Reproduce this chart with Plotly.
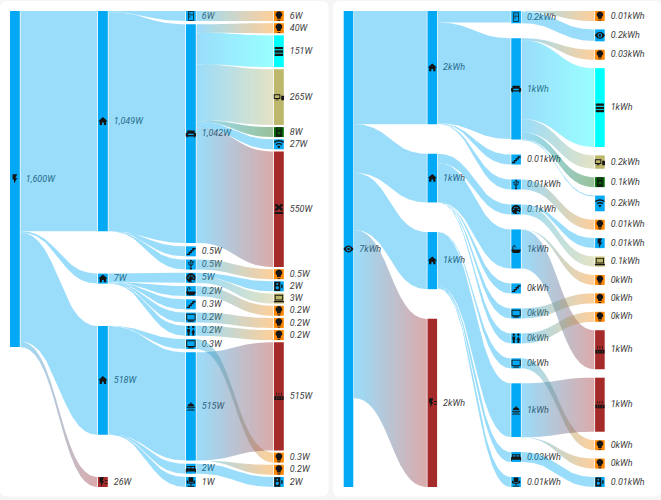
#!/usr/bin/env python3
# -*- coding: utf-8 -*-
"""Power and energy sankey cards, built on plain scatter fills so links can fade."""
import numpy as np
import plotly.graph_objects as go

# ----- power card (W)
power_column_sizes = [1, 4, 13, 17]
power_labels = [
    "1,600W",
    "1,049W", "7W", "518W", "26W",
    "6W", "1,042W", "0.5W", "0.5W", "5W", "0.2W", "0.3W", "0.2W", "0.2W", "0.3W", "515W", "2W", "1W",
    "6W", "40W", "151W", "265W", "8W", "27W", "550W", "0.5W", "2W", "3W", "0.2W", "0.2W", "0.2W",
    "515W", "0.3W", "0.2W", "2W",
]
power_values = [
    1600,
    1049, 7, 518, 26,
    6, 1042, 0.5, 0.5, 5, 0.2, 0.3, 0.2, 0.2, 0.3, 515, 2, 1,
    6, 40, 151, 265, 8, 27, 550, 0.5, 2, 3, 0.2, 0.2, 0.2, 515, 0.3, 0.2, 2,
]
power_link_from = [0, 0, 0, 0, 1, 1, 1, 1, 2, 2, 2, 2, 2, 3, 3, 3, 3,
                   5, 6, 6, 6, 6, 6, 6, 8, 9, 9, 10, 12, 13, 14, 15, 15, 16]
power_link_to = [1, 2, 3, 4, 5, 6, 7, 8, 9, 10, 11, 12, 13, 14, 15, 16, 17,
                 18, 19, 20, 21, 22, 23, 24, 25, 26, 27, 28, 29, 30, 32, 31, 33, 34]
power_link_value = [1049, 7, 518, 26, 6, 1042, 0.5, 0.5, 5, 0.2, 0.3, 0.2, 0.2, 0.3, 515, 2, 1,
                    6, 40, 151, 265, 8, 27, 550, 0.5, 2, 3, 0.2, 0.2, 0.2, 0.3, 515, 0.2, 2]

# ----- energy card (kWh), labels are rounded so the values carry more digits
energy_column_sizes = [1, 4, 13, 18]
energy_labels = [
    "7kWh",
    "2kWh", "1kWh", "1kWh", "2kWh",
    "0.2kWh", "1kWh", "0.01kWh", "0.01kWh", "0.1kWh", "1kWh", "0kWh", "0kWh", "0kWh", "0kWh",
    "1kWh", "0.03kWh", "0.01kWh",
    "0.01kWh", "0.2kWh", "0.03kWh", "1kWh", "0.2kWh", "0.1kWh", "0.2kWh", "0.01kWh", "0.01kWh",
    "0.1kWh", "0kWh", "0kWh", "0kWh", "1kWh", "1kWh", "0kWh", "0kWh", "0.01kWh",
]
energy_values = [
    7.0,
    1.664, 0.716, 0.84, 2.474,
    0.18, 1.49, 0.005, 0.005, 0.14, 0.574, 0.001, 0.001, 0.001, 0.001, 0.79, 0.03, 0.01,
    0.01, 0.175, 0.03, 1.159, 0.196, 0.1, 0.231, 0.01, 0.01, 0.1, 0.001, 0.001, 0.001,
    0.574, 0.795, 0.001, 0.001, 0.01,
]
energy_link_from = [0, 0, 0, 0, 1, 1, 1, 1, 2, 2, 2, 2, 2, 3, 3, 3, 3,
                    5, 5, 6, 6, 6, 6, 6, 8, 9, 9, 10, 10, 12, 13, 14, 15, 15, 16]
energy_link_to = [1, 2, 3, 4, 5, 6, 7, 8, 9, 10, 11, 12, 13, 14, 15, 16, 17,
                  18, 19, 20, 21, 22, 23, 24, 25, 26, 27, 28, 31, 29, 30, 33, 32, 34, 35]
energy_link_value = [1.664, 0.716, 0.84, 2.474, 0.17, 1.483, 0.005, 0.005, 0.14, 0.574,
                     0.001, 0.001, 0.001, 0.001, 0.79, 0.03, 0.01,
                     0.01, 0.17, 0.03, 1.159, 0.196, 0.1, 0.015, 0.005, 0.014, 0.1,
                     0.001, 0.574, 0.001, 0.001, 0.001, 0.795, 0.001, 0.03]

# ----- node styling
BLUE = "#03A9F4"
ORANGE = "#FF8600"
CYAN = "#00FFFF"
KHAKI = "#BDB76B"
GREEN = "#006400"
BROWN = "#A52A2A"
power_colors = [BLUE] * 4 + [BROWN] + [BLUE] * 13 + [
    ORANGE, ORANGE, CYAN, KHAKI, GREEN, BLUE, BROWN, ORANGE, BLUE, KHAKI, ORANGE, ORANGE, ORANGE,
    BROWN, ORANGE, ORANGE, BLUE]
energy_colors = [BLUE] * 4 + [BROWN] + [BLUE] * 13 + [
    ORANGE, BLUE, ORANGE, CYAN, KHAKI, GREEN, BLUE, ORANGE, BLUE, KHAKI, ORANGE, ORANGE, ORANGE,
    BROWN, BROWN, ORANGE, ORANGE, BLUE]
power_icons = [
    "flash",
    "home", "home", "home", "meter",
    "fridge", "sofa", "stairs", "usb", "palette", "bath", "stairs", "monitor", "toilet", "monitor",
    "shower", "bed", "chair",
    "bulb", "bulb", "server", "console", "tower", "wifi", "aircon", "bulb", "speaker", "laptop",
    "bulb", "bulb", "bulb", "radiator", "bulb", "bulb", "speaker",
]
energy_icons = [
    "eye",
    "home", "home", "home", "meter",
    "fridge", "sofa", "stairs", "usb", "palette", "bath", "stairs", "monitor", "toilet", "monitor",
    "shower", "bed", "chair",
    "bulb", "eye", "bulb", "server", "console", "tower", "wifi", "bulb", "flash", "laptop",
    "bulb", "bulb", "bulb", "radiator", "radiator", "bulb", "bulb", "speaker",
]

TOP, BOTTOM = 11.0, 487.0
MIN_NODE = 10.0
STRIP = 5  # gradient strip width, strips start on whole pixels so no seams show
FONT = "Roboto"
TEXT_COLOR = "#3d3d3d"
ICON_COLOR = "#151515"


def circle(cx, cy, r, n=14):
    a = np.linspace(0, 2 * np.pi, n, endpoint=False)
    return list(zip(cx + r * np.cos(a), cy + r * np.sin(a)))


def rect(x0, y0, x1, y1):
    return [(x0, y0), (x1, y0), (x1, y1), (x0, y1)]


# simple 24x24 outlines, holes work because shapes fill even-odd
ICONS = {
    "flash": [[(7, 2), (7, 13), (10, 13), (10, 22), (17, 10), (13, 10), (17, 2)]],
    "home": [[(10, 20), (10, 15), (14, 15), (14, 20), (19, 20), (19, 12), (22, 12), (12, 3), (2, 12), (5, 12), (5, 20)]],
    "meter": [[(5, 2), (5, 13), (8, 13), (8, 22), (14, 10), (11, 10), (14, 2)], rect(16, 8, 22, 10), rect(16, 14, 22, 16)],
    "bulb": [[(12, 2), (16, 3), (19, 7), (19, 11), (16, 14.7), (16, 18), (8, 18), (8, 14.7), (5, 11), (5, 7), (8, 3)],
             rect(9, 20, 15, 22)],
    "eye": [[(1, 12), (4, 8), (8, 5.4), (12, 4.5), (16, 5.4), (20, 8), (23, 12), (20, 16), (16, 18.6), (12, 19.5), (8, 18.6), (4, 16)],
            circle(12, 12, 5), circle(12, 12, 3)],
    "wifi": [[(12, 21), (15.6, 16.2), (14, 15.3), (12, 15), (10, 15.3), (8.4, 16.2)],
             [(4.8, 11.4), (8, 9.6), (12, 9), (16, 9.6), (19.2, 11.4), (17.4, 13.8), (15, 12.6), (12, 12), (9, 12.6), (6.6, 13.8)],
             [(1.2, 6.6), (6, 3.9), (12, 3), (18, 3.9), (22.8, 6.6), (21, 9), (16.5, 6.7), (12, 6), (7.5, 6.7), (3, 9)]],
    "server": [rect(3, 3, 21, 8), rect(3, 10, 21, 15), rect(3, 17, 21, 22)],
    "console": [rect(1, 6, 15, 16), rect(3, 8, 13, 14), rect(5, 17, 11, 19), rect(17, 9, 23, 19)],
    "tower": [rect(6, 2, 18, 22), rect(8, 4, 16, 7), circle(12, 14, 3.5)],
    "sofa": [[(4, 5), (20, 5), (20, 10), (22, 10), (23, 12), (23, 18), (21, 18), (21, 20), (19, 20), (19, 18), (5, 18), (5, 20), (3, 20), (3, 18), (1, 18), (1, 12), (2, 10), (4, 10)],
             rect(6, 12, 18, 15)],
    "stairs": [[(15, 5), (15, 9), (11, 9), (11, 13), (7, 13), (7, 17), (3, 17), (3, 20), (10, 20), (10, 16), (14, 16), (14, 12), (18, 12), (18, 8), (22, 8), (22, 5)]],
    "usb": [[(12, 1), (15, 5), (13, 5), (13, 19), (11, 19), (11, 5), (9, 5)], circle(12, 20, 2.5),
            [(11, 15), (7, 12.5), (7, 9), (8.5, 9), (8.5, 11.5), (11, 13)], circle(7.7, 8, 1.7),
            [(13, 13), (15.5, 10.5), (15.5, 8), (17, 8), (17, 11.5), (13, 15)], rect(14.7, 5, 17.8, 8)],
    "palette": [circle(12, 12, 10), circle(6.5, 12, 1.5), circle(9.5, 8, 1.5), circle(14.5, 8, 1.5), circle(17.5, 12, 1.5), circle(16, 19, 3)],
    "bath": [[(2, 13), (22, 13), (22, 16), (19, 21), (5, 21), (2, 16)], rect(4, 4, 6, 13), rect(4, 4, 10, 6), rect(9, 6, 11, 9)],
    "monitor": [rect(2, 4, 22, 18), rect(4, 6, 20, 16), rect(6, 19, 18, 21)],
    "toilet": [circle(7, 4, 2.5), circle(17, 4, 2.5), rect(4, 8, 10, 15), rect(5, 15, 9, 22),
               [(17, 7.5), (21, 16), (19, 16), (19, 22), (15, 22), (15, 16), (13, 16)]],
    "shower": [[(4, 12), (7, 7), (11, 5.5), (11, 3), (13, 3), (13, 5.5), (17, 7), (20, 12)], rect(3, 14, 21, 15.5), rect(5, 17, 19, 18.5), rect(3, 20, 21, 21.5)],
    "bed": [[(3, 6), (21, 6), (21, 11), (23, 13), (23, 20), (21, 20), (21, 18), (3, 18), (3, 20), (1, 20), (1, 13), (3, 11)],
            rect(5, 8, 11, 11), rect(13, 8, 19, 11)],
    "chair": [rect(7, 2, 17, 12), rect(3, 9, 6, 15), rect(18, 9, 21, 15), rect(6, 13, 18, 16), rect(11, 16, 13, 20), rect(5, 20, 19, 22)],
    "speaker": [rect(2, 2, 15, 22), circle(8.5, 7, 2), circle(8.5, 15, 3.5), rect(17, 8, 20, 16)],
    "fridge": [rect(6, 2, 18, 22), rect(7.5, 3.5, 16.5, 9), rect(7.5, 10.5, 16.5, 20.5), rect(9, 5, 10.5, 7.5), rect(9, 12, 10.5, 16)],
    "laptop": [rect(3, 4, 21, 16), rect(5, 6, 19, 14), rect(1, 17, 23, 20)],
    "radiator": [rect(2, 12, 22, 20), rect(6, 14, 7.5, 18), rect(11.3, 14, 12.7, 18), rect(16.5, 14, 18, 18),
                 rect(6, 4, 7.5, 10), rect(11.3, 4, 12.7, 10), rect(16.5, 4, 18, 10)],
    "aircon": [[(4, 1), (8, 1), (12, 5), (16, 1), (20, 1), (20, 5), (16, 8), (20, 11), (20, 15), (16, 15), (12, 11), (8, 15), (4, 15), (4, 11), (8, 8), (4, 5)],
               rect(3, 18, 21, 22)],
}


def hex_rgb(color):
    return tuple(int(color[i:i + 2], 16) for i in (1, 3, 5))


def band_edge(xs, x0, x1, y0, y1):
    # cubic with both control points on the mid x, same curve the link keeps along its width
    t = np.linspace(0, 1, 400)
    xm = (x0 + x1) / 2
    bx = (1 - t) ** 3 * x0 + 3 * (1 - t) * t * xm + t ** 3 * x1
    by = (1 - t) ** 3 * y0 + 3 * (1 - t) ** 2 * t * y0 + 3 * (1 - t) * t ** 2 * y1 + t ** 3 * y1
    return np.interp(xs, bx, by)


def add_fill(fig, x, y, color):
    fig.add_trace(go.Scatter(x=x, y=y, mode="lines", fill="toself", fillcolor=color,
                             line=dict(width=0), hoverinfo="skip", showlegend=False))


def draw_card(fig, sizes, labels, values, colors, icons, link_from, link_to, link_value, x0, step, width, scale):
    columns = np.repeat(np.arange(len(sizes)), sizes)
    heights = np.maximum(np.array(values) * scale, MIN_NODE)

    # nodes are spread over the full card height, a lone node stays at the top
    tops = np.zeros(len(values))
    for c in range(len(sizes)):
        idx = np.where(columns == c)[0]
        gap = (BOTTOM - TOP - heights[idx].sum()) / (len(idx) - 1) if len(idx) > 1 else 0
        y = TOP
        for i in idx:
            tops[i] = y
            y += heights[i] + gap

    xs = x0 + columns * step

    # labels go first, the links are painted over them
    fig.add_trace(go.Scatter(
        x=xs + width + 6, y=tops + heights / 2 + 0.4, text=labels, mode="text", textposition="middle right",
        textfont=dict(family=FONT, size=9, style="italic", color=TEXT_COLOR),
        hoverinfo="skip", showlegend=False))

    out_sum = np.zeros(len(values))
    in_sum = np.zeros(len(values))
    for a, b, v in zip(link_from, link_to, link_value):
        out_sum[a] += v
        in_sum[b] += v

    out_y = tops.copy()
    in_y = tops.copy()
    for a, b, v in zip(link_from, link_to, link_value):
        h0 = v * (heights[a] / out_sum[a] if heights[a] == MIN_NODE else scale)
        h1 = v * (heights[b] / in_sum[b] if heights[b] == MIN_NODE else scale)
        y0, y1 = out_y[a], in_y[b]
        out_y[a] += h0
        in_y[b] += h1
        left = xs[a] + width + 0.7
        right = xs[b] - 0.7

        if colors[a] == colors[b]:
            bounds = [left, right]
        else:
            first = np.ceil(left / STRIP) * STRIP
            bounds = [left] + list(np.arange(first, right, STRIP)) + [right]
        c0, c1 = np.array(hex_rgb(colors[a])), np.array(hex_rgb(colors[b]))
        for s0, s1 in zip(bounds[:-1], bounds[1:]):
            px = np.linspace(s0, s1, max(int(s1 - s0) + 1, 2) if colors[a] != colors[b] else 80)
            upper = band_edge(px, left, right, y0, y1)
            lower = band_edge(px, left, right, y0 + h0, y1 + h1)
            f = ((s0 + s1) / 2 - left) / (right - left)
            r, g, b2 = c0 + (c1 - c0) * f
            add_fill(fig, list(px) + list(px[::-1]), list(upper) + list(lower[::-1]),
                     f"rgba({r:.0f},{g:.0f},{b2:.0f},0.4)")

    shapes = []
    for i, color in enumerate(colors):
        add_fill(fig, [xs[i], xs[i] + width, xs[i] + width, xs[i], xs[i]],
                 [tops[i], tops[i], tops[i] + heights[i], tops[i] + heights[i], tops[i]], color)
        # 24 unit icon a little wider than the node allows, as in the cards
        k = width / 21
        cx, cy = xs[i] + width / 2, tops[i] + heights[i] / 2
        path = ""
        for poly in ICONS[icons[i]]:
            pts = [f"{cx + (px - 12) * k:.2f},{cy + (py - 12) * k:.2f}" for px, py in poly]
            path += "M" + " L".join(pts) + " Z "
        shapes.append(dict(type="path", path=path, xref="x", yref="y", fillcolor=ICON_COLOR,
                           line=dict(width=0), layer="above"))
    return shapes


def card_path(x0, y0, x1, y1, r=7):
    return (f"M{x0 + r},{y0} L{x1 - r},{y0} Q{x1},{y0} {x1},{y0 + r} L{x1},{y1 - r} Q{x1},{y1} {x1 - r},{y1} "
            f"L{x0 + r},{y1} Q{x0},{y1} {x0},{y1 - r} L{x0},{y0 + r} Q{x0},{y0} {x0 + r},{y0} Z")


def main():
    fig = go.Figure()
    shapes = [
        dict(type="path", path=card_path(0, 1, 328.5, 496.5), xref="x", yref="y",
             fillcolor="white", line=dict(width=0), layer="below"),
        dict(type="path", path=card_path(333, 1, 661, 496.5), xref="x", yref="y",
             fillcolor="white", line=dict(width=0), layer="below"),
    ]
    shapes += draw_card(fig, power_column_sizes, power_labels, power_values, power_colors, power_icons,
                        power_link_from, power_link_to, power_link_value,
                        x0=10, step=88, width=9.8, scale=0.21)
    shapes += draw_card(fig, energy_column_sizes, energy_labels, energy_values, energy_colors, energy_icons,
                        energy_link_from, energy_link_to, energy_link_value,
                        x0=343.7, step=83.8, width=9.6, scale=68.0)

    fig.update_layout(
        width=661, height=500, margin=dict(l=0, r=0, t=0, b=0), autosize=False,
        paper_bgcolor="#F5F5F5", plot_bgcolor="rgba(0,0,0,0)", shapes=shapes, showlegend=False,
        xaxis=dict(range=[0, 661], visible=False, fixedrange=True),
        yaxis=dict(range=[500, 0], visible=False, fixedrange=True),
    )
    fig.write_html("out.html", config=dict(displayModeBar=False),
                   post_script="document.body.style.margin='0';document.body.style.overflow='hidden';")


if __name__ == "__main__":
    main()
